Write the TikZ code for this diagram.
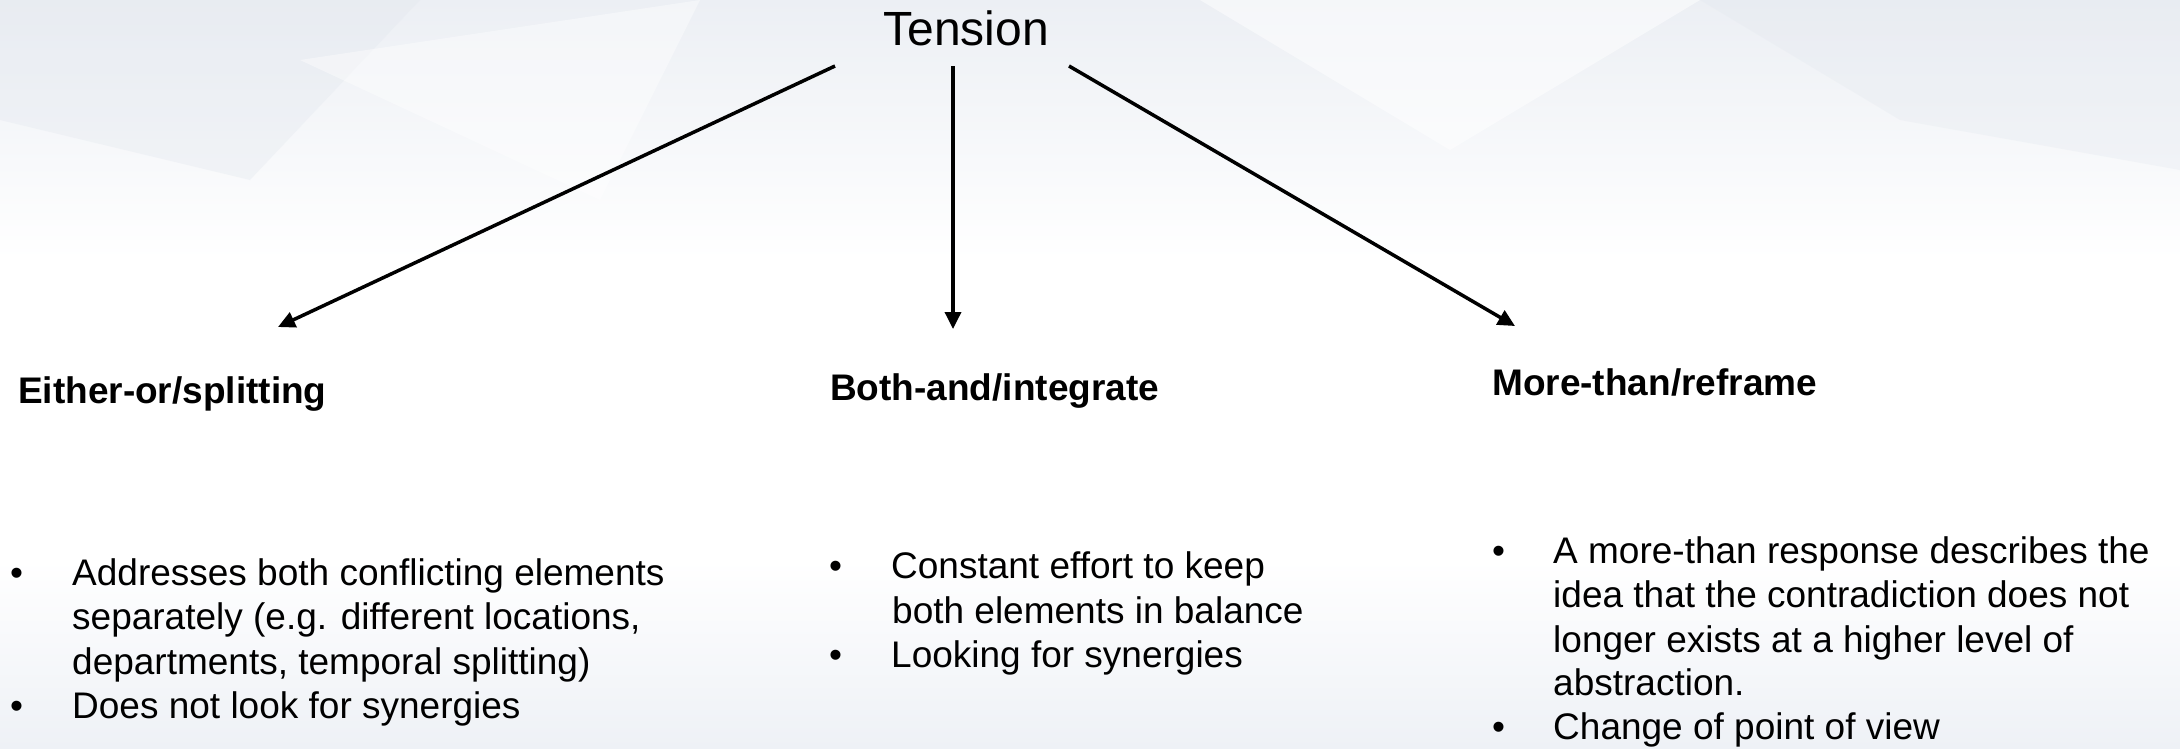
\documentclass[tikz,border=0pt]{standalone}
\usepackage{fontspec}
\setmainfont{Liberation Sans}
\usetikzlibrary{arrows.meta}
\definecolor{bgtop}{RGB}{236,239,244}
\definecolor{bgmid}{RGB}{255,255,255}
\definecolor{bgbot}{RGB}{238,241,246}
\definecolor{facet}{RGB}{226,231,238}
\begin{document}
\begin{tikzpicture}[x=1pt,y=-1pt,
  txt/.style={anchor=base west,inner sep=0pt,font=\fontsize{37}{44}\selectfont},
  head/.style={anchor=base west,inner sep=0pt,font=\fontsize{37}{44}\selectfont\bfseries},
  bul/.style={anchor=base west,inner sep=0pt,font=\fontsize{37}{44}\selectfont},
  conn/.style={line width=3.5pt,-{Triangle[length=17pt,width=16pt]}}]
\useasboundingbox (0,0) rectangle (2180,748);
% background
\shade[top color=bgtop,bottom color=bgmid] (0,0) rectangle (2180,260);
\fill[bgmid] (0,260) rectangle (2180,560);
\shade[top color=bgmid,bottom color=bgbot] (0,560) rectangle (2180,748);
\fill[facet,opacity=0.35] (0,0) -- (420,0) -- (250,180) -- (0,120) -- cycle;
\fill[white,opacity=0.5] (1200,0) -- (1700,0) -- (1450,150) -- cycle;
\fill[facet,opacity=0.3] (1700,0) -- (2180,0) -- (2180,170) -- (1900,120) -- cycle;
\fill[white,opacity=0.4] (300,60) -- (700,0) -- (600,200) -- cycle;
% title
\node[anchor=base,inner sep=0pt,font=\fontsize{48}{56}\selectfont] (tension) at (966,45) {Tension};
\coordinate (sL) at (835,66);
\coordinate (sM) at (953,66);
\coordinate (sR) at (1069,66);
\coordinate (eL) at (278,327);
\coordinate (eM) at (953,329);
\coordinate (eR) at (1515,326);
\draw[conn] (sL) -- (eL);
\draw[conn] (sM) -- (eM);
\draw[conn] (sR) -- (eR);
% headings
\node[head] (h1) at (18,403) {Either-or/splitting};
\node[head] (h2) at (830,400) {Both-and/integrate};
\node[head] (h3) at (1492,395) {More-than/reframe};
% left column
\node[bul] (b1a) at (10,585) {•};
\node[txt] (l1) at (72,585) {Addresses both conflicting elements};
\node[txt] (l2) at (72,629) {separately (e.g. different locations,};
\node[txt] (l3) at (72,674) {departments, temporal splitting)};
\node[bul] (b1b) at (10,718) {•};
\node[txt] (l4) at (72,718) {Does not look for synergies};
% middle column
\node[bul] (b2a) at (829,578) {•};
\node[txt] (m1) at (891,578) {Constant effort to keep};
\node[txt] (m2) at (892,623) {both elements in balance};
\node[bul] (b2b) at (829,667) {•};
\node[txt] (m3) at (891,667) {Looking for synergies};
% right column
\node[bul] (b3a) at (1492,563) {•};
\node[txt] (r1) at (1553,563) {A more-than response describes the};
\node[txt] (r2) at (1553,607) {idea that the contradiction does not};
\node[txt] (r3) at (1553,652) {longer exists at a higher level of};
\node[txt] (r4) at (1553,695) {abstraction.};
\node[bul] (b3b) at (1492,739) {•};
\node[txt] (r5) at (1553,739) {Change of point of view};
\end{tikzpicture}
\end{document}
